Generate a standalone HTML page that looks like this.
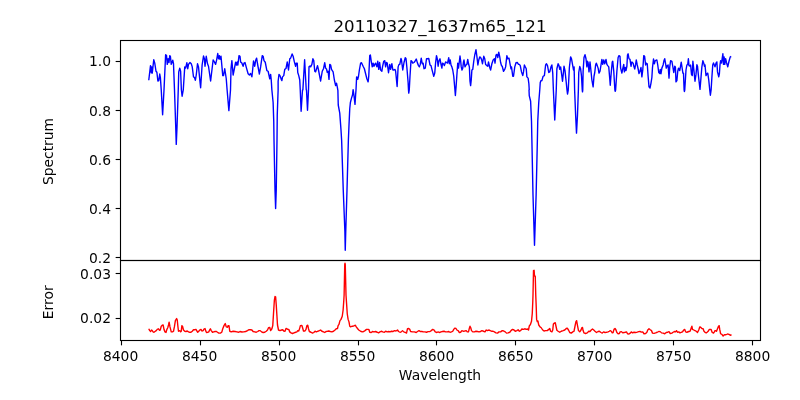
<!DOCTYPE html>
<html lang="en"><head><meta charset="utf-8"><title>20110327_1637m65_121</title>
<style>html,body{margin:0;padding:0;background:#fff;}body{width:800px;height:400px;overflow:hidden;}svg{display:block;}text{font-family:"DejaVu Sans","Liberation Sans",sans-serif;fill:#000;}</style></head><body>
<svg width="800" height="400" viewBox="0 0 800 400">
<rect x="0" y="0" width="800" height="400" fill="#ffffff"/>
<g fill="none" stroke-linejoin="round" stroke-linecap="butt" stroke-width="1.39">
<polyline stroke="#0000ff" points="148.75,80.25 150.50,65.62 151.25,72.75 151.75,66.88 152.25,73.12 153.75,59.75 154.75,63.12 156.00,71.25 156.88,72.25 157.88,81.00 158.75,80.62 159.75,74.00 160.38,77.50 161.25,90.00 161.25,90.00 162.62,114.75 164.00,90.00 164.00,90.00 165.62,54.75 166.50,55.25 167.25,64.38 168.12,58.75 169.00,62.50 169.75,55.62 170.38,56.25 171.25,64.38 172.75,60.25 173.50,63.75 174.50,90.00 174.50,90.00 175.75,127.50 175.75,127.50 176.25,144.38 177.00,127.50 177.00,127.50 178.25,90.00 178.25,90.00 178.75,71.88 179.75,68.12 180.62,71.25 181.38,90.00 181.38,90.00 182.12,96.25 183.25,90.00 183.25,90.00 184.75,66.88 185.62,68.12 186.88,62.75 187.75,68.75 188.50,64.38 190.00,62.50 191.25,63.75 192.25,66.88 193.50,76.88 194.50,77.50 195.38,80.25 196.25,75.00 197.50,63.75 198.50,66.88 200.62,87.75 202.12,65.00 203.50,56.00 204.38,58.75 205.00,66.25 206.25,56.25 207.50,63.75 208.50,66.25 210.62,81.00 213.12,60.00 214.38,61.88 215.62,64.38 216.50,60.62 217.75,53.50 218.50,58.75 219.38,55.62 220.00,59.38 221.00,56.25 222.75,75.62 223.50,75.62 224.75,68.75 226.25,78.75 227.12,90.00 227.12,90.00 228.88,110.62 230.50,90.00 230.50,90.00 231.00,68.75 231.88,60.62 233.12,75.00 235.62,62.25 236.50,65.00 237.25,61.88 237.88,65.00 239.00,55.62 240.00,56.25 240.62,61.88 241.88,63.12 243.12,66.25 244.00,63.12 245.00,62.50 246.50,68.12 248.12,73.75 249.38,75.00 250.62,73.50 251.88,76.88 252.50,71.25 253.50,61.00 254.75,66.25 255.62,60.62 256.62,58.12 257.50,63.75 259.38,74.00 260.62,66.88 262.25,55.62 263.12,56.25 264.00,60.62 265.25,62.25 266.88,70.62 268.12,71.25 269.75,78.75 270.62,74.38 271.25,80.00 271.88,90.00 271.88,90.00 273.12,102.50 273.75,121.25 274.00,140.00 275.00,190.00 275.62,208.50 276.25,190.00 277.00,140.00 277.25,115.00 278.12,90.00 278.12,90.00 278.12,81.25 279.00,74.38 280.00,75.62 281.25,79.38 281.88,80.62 282.50,76.88 283.75,75.62 284.75,69.38 286.00,68.50 287.25,61.88 288.50,70.00 289.75,58.75 290.62,58.12 292.12,54.00 293.12,56.25 294.38,61.88 295.62,66.25 296.25,63.12 297.25,63.12 297.75,72.50 298.75,75.62 299.75,80.00 300.25,90.00 300.25,90.00 301.12,111.25 302.50,90.00 302.88,90.00 304.62,59.75 306.25,90.00 306.50,90.00 307.50,110.25 308.50,90.00 308.50,90.00 309.00,66.88 310.00,66.00 310.62,66.88 311.88,64.38 312.88,58.75 313.75,60.62 314.75,71.25 315.62,71.88 317.50,65.62 318.50,70.00 320.62,81.00 322.25,71.25 323.50,68.75 324.75,62.75 325.62,68.12 326.50,69.00 327.25,72.25 328.12,71.25 329.00,79.38 329.75,64.38 330.62,65.00 331.50,69.38 333.12,71.88 334.38,80.00 335.62,85.62 336.50,83.12 337.50,88.12 337.75,90.00 337.88,90.00 338.25,105.00 339.75,113.12 341.00,130.00 341.62,140.00 341.62,140.00 343.25,190.00 343.25,190.00 344.88,231.25 344.88,231.25 345.25,250.25 345.75,231.25 345.75,231.25 347.00,190.00 347.00,190.00 348.38,140.00 349.00,125.00 349.75,108.75 350.38,102.50 351.50,98.12 352.50,95.00 353.12,89.62 353.75,93.75 355.00,104.38 355.62,95.00 356.00,90.00 356.00,90.00 356.62,76.88 357.75,79.38 358.50,76.25 359.38,70.00 360.62,63.12 361.50,62.75 363.12,66.25 364.38,68.75 365.62,73.75 366.88,78.75 368.12,81.88 368.75,76.25 369.75,55.62 370.38,55.00 371.25,61.25 372.25,66.88 373.12,63.12 374.00,66.25 374.75,64.38 375.62,63.12 376.88,66.88 377.75,61.25 378.75,69.38 379.62,62.50 380.62,70.00 381.88,71.25 382.50,66.88 383.75,61.25 384.75,60.62 385.62,66.88 386.50,62.50 387.25,63.12 388.50,72.75 389.75,64.38 390.62,69.38 391.88,63.75 392.88,70.00 393.75,70.00 395.00,69.38 395.62,71.25 396.25,77.50 397.12,86.50 398.12,66.88 399.00,64.38 399.75,64.38 401.00,58.50 401.50,60.00 402.75,70.00 404.00,62.50 405.25,57.75 406.00,58.50 406.88,67.50 408.12,82.50 408.50,90.00 408.50,90.00 408.75,93.12 409.25,90.00 409.25,90.00 410.00,76.25 411.00,60.62 411.88,61.25 412.75,63.12 414.00,62.50 415.00,61.25 416.25,59.00 417.50,63.12 418.50,65.62 419.38,66.88 420.25,64.38 421.25,58.12 422.25,63.75 423.12,63.12 424.00,68.75 425.25,68.12 426.50,58.75 427.50,58.75 428.75,58.50 430.00,65.00 431.00,65.62 432.25,70.62 433.75,76.25 434.75,73.12 435.62,62.50 436.50,55.62 437.25,58.75 438.12,66.25 439.00,60.62 440.00,58.75 441.00,64.38 441.88,68.12 442.50,63.12 443.50,63.75 444.38,65.62 445.62,61.88 446.50,62.50 447.50,63.12 448.75,57.75 449.38,63.75 450.25,60.00 451.00,65.00 451.88,66.88 452.75,70.00 453.75,76.25 454.62,86.25 455.38,95.50 456.12,86.25 456.88,75.00 457.75,63.12 458.50,68.12 459.38,61.25 460.00,56.00 460.62,60.62 461.25,66.88 462.00,70.00 462.75,68.12 463.50,61.88 464.00,60.00 465.00,66.88 466.00,65.00 466.88,64.38 467.75,59.38 468.50,63.75 469.38,66.88 470.00,81.25 470.62,85.62 471.25,80.00 471.88,70.00 472.75,69.38 473.75,61.25 474.75,55.00 476.00,49.75 476.88,56.25 477.88,65.00 478.75,60.00 479.75,56.88 480.62,57.50 481.50,59.38 482.50,63.75 483.75,56.25 484.75,58.75 485.62,64.38 486.88,65.62 487.75,66.25 488.50,61.88 489.75,67.50 490.62,70.00 491.88,63.75 493.12,60.00 494.38,58.75 495.00,63.12 496.00,55.00 496.88,54.38 497.75,57.50 498.75,52.25 499.75,56.88 500.62,62.50 501.50,65.62 502.25,66.25 503.50,71.25 504.75,69.38 505.62,66.88 506.88,55.62 507.75,58.75 509.00,58.12 510.00,63.75 511.00,68.75 511.50,66.88 512.75,76.25 513.50,76.25 514.75,66.88 516.00,62.75 517.25,62.50 518.50,64.38 519.38,64.38 520.25,65.62 521.50,71.88 522.75,75.62 523.50,71.88 524.38,65.00 525.25,66.88 526.25,68.75 526.88,76.88 528.12,78.12 528.88,83.75 529.25,90.00 529.00,90.00 529.25,95.62 530.62,101.25 531.50,121.25 531.88,140.00 533.00,195.00 534.50,245.25 536.12,195.00 537.38,140.00 537.75,121.25 538.75,102.50 539.75,90.00 539.75,90.00 540.25,82.50 541.00,80.62 541.88,80.62 543.12,76.25 544.38,75.62 545.62,65.00 546.50,63.75 547.50,65.62 548.75,72.50 549.75,71.88 551.00,66.88 551.88,65.00 552.75,73.12 553.38,90.00 553.38,90.00 554.75,120.00 556.25,90.00 556.25,90.00 556.88,68.75 558.12,63.75 559.00,65.62 559.75,69.38 560.62,66.88 561.88,76.25 562.50,81.25 563.50,71.88 564.00,66.25 565.00,70.62 566.25,82.50 567.00,90.00 567.00,90.00 567.50,94.00 568.25,90.00 568.25,90.00 569.38,67.50 570.62,56.88 571.50,58.75 572.50,64.38 573.50,70.00 574.12,66.88 574.62,90.00 574.62,90.00 575.62,115.00 576.50,133.12 577.50,115.00 578.38,90.00 578.38,90.00 578.75,72.50 579.75,66.50 580.62,68.75 581.50,76.25 582.25,90.00 582.25,90.00 582.50,91.88 582.75,90.00 582.75,90.00 583.12,71.25 584.00,57.50 585.00,54.75 586.00,58.75 586.88,66.88 587.50,61.25 588.12,62.50 589.00,71.88 590.00,61.88 591.00,71.25 591.88,80.00 593.12,86.88 594.00,76.25 594.75,72.50 595.62,65.00 596.25,63.12 597.25,65.62 598.12,68.12 599.00,73.12 600.00,71.25 601.00,65.00 601.88,59.38 602.75,64.38 603.75,60.00 604.75,63.75 606.00,59.38 606.88,64.38 607.75,65.62 608.75,66.88 609.75,78.75 610.25,85.25 611.25,72.50 612.25,61.88 612.75,61.25 613.75,71.25 614.88,90.00 614.88,90.00 615.25,91.25 615.62,90.00 615.62,90.00 616.88,71.25 618.12,57.50 619.00,55.62 620.00,56.25 620.62,68.12 621.88,73.12 622.75,68.75 623.75,64.38 624.38,71.88 625.25,67.50 626.00,70.62 626.88,66.25 627.50,55.00 628.12,53.75 629.00,58.75 630.00,59.38 631.00,66.25 631.88,61.88 633.12,63.12 634.00,66.88 634.75,69.00 635.62,64.38 636.25,60.00 637.25,65.00 638.12,68.75 639.00,73.50 640.00,71.25 641.00,67.50 641.88,76.88 642.75,70.00 643.75,55.62 644.62,56.25 645.62,65.00 646.25,63.12 647.25,63.75 648.12,76.25 649.00,86.88 650.00,88.12 651.00,83.12 651.88,77.50 652.50,67.50 653.50,59.00 654.38,63.75 655.25,60.62 656.88,60.00 657.75,65.00 658.75,72.50 659.75,73.50 660.25,69.38 661.00,73.75 661.88,68.12 663.12,65.00 664.00,60.62 664.75,58.75 665.62,63.75 666.25,68.12 667.25,65.62 668.12,65.00 669.00,78.12 669.75,66.88 670.62,60.62 671.88,61.25 672.75,66.25 673.75,72.50 674.75,66.25 675.38,66.88 676.00,81.88 676.88,80.62 677.75,71.25 678.50,68.12 679.75,70.62 680.62,65.62 681.25,62.25 682.25,68.75 682.88,73.12 683.50,73.12 684.12,90.00 684.12,90.00 684.38,91.50 684.75,90.00 684.75,90.00 686.00,70.00 686.88,65.00 687.75,64.38 688.38,58.75 689.00,65.62 690.00,66.25 690.62,65.00 691.50,74.38 692.25,75.62 692.88,61.25 693.75,68.75 695.00,81.25 696.00,74.38 696.88,64.75 697.50,66.25 698.50,76.25 700.00,89.38 701.00,77.50 701.88,66.88 702.88,60.62 703.75,63.12 704.50,66.25 705.00,65.00 706.00,75.62 706.88,73.75 707.75,73.12 708.75,80.00 709.75,90.00 709.75,90.00 710.38,95.25 711.12,90.00 711.12,90.00 711.88,77.50 712.75,65.00 713.50,62.88 715.00,66.88 716.00,63.12 716.88,61.88 717.50,71.88 718.75,76.88 719.38,73.75 720.00,65.00 720.62,60.62 721.50,63.12 722.25,58.12 722.88,53.75 723.50,64.38 724.12,56.88 724.75,64.38 725.62,58.75 726.50,62.50 727.75,66.88 729.00,61.25 730.25,56.88 731.25,56.50"/>
<polyline stroke="#ff0000" points="148.75,328.75 149.75,330.62 150.62,331.50 151.50,330.00 152.25,330.62 153.12,331.88 154.00,332.25 155.00,331.50 156.25,330.62 157.25,329.38 158.50,328.75 159.38,330.25 160.25,330.00 161.25,326.25 162.25,325.25 163.12,325.00 164.00,329.38 165.00,331.88 166.00,332.50 166.88,329.38 167.75,327.75 168.50,325.00 169.12,322.25 170.00,326.88 171.25,331.88 172.50,331.88 173.50,331.25 174.38,326.88 175.38,320.62 176.62,318.50 177.25,320.00 177.88,326.25 178.50,331.25 179.75,330.62 180.62,331.88 181.25,331.25 181.88,325.62 182.50,326.25 183.50,330.00 184.75,331.25 186.00,331.50 187.25,331.00 188.50,331.88 189.75,332.25 191.00,332.25 192.25,331.25 193.50,329.75 194.75,329.75 196.00,329.38 196.88,331.00 197.75,332.25 198.75,331.25 199.75,330.00 201.00,329.38 201.88,331.00 203.12,330.62 204.00,329.00 205.00,328.50 205.62,330.62 206.50,332.50 207.75,332.25 208.75,331.88 209.75,329.75 210.38,328.75 211.25,330.62 212.50,332.25 213.75,331.88 215.00,331.50 216.50,331.50 217.50,332.25 218.75,333.12 220.62,333.12 221.88,331.88 222.75,328.75 224.00,325.62 225.25,323.50 226.25,326.88 227.50,327.25 228.12,325.62 229.00,325.62 229.75,331.25 231.25,331.88 233.12,331.25 235.00,331.50 236.88,331.88 238.75,332.25 240.00,331.50 241.88,332.00 243.75,331.88 245.62,331.50 247.50,330.62 248.75,329.75 250.62,329.75 251.88,330.00 253.12,331.50 254.75,331.88 256.25,332.25 257.75,331.50 259.00,330.62 260.25,330.62 261.50,331.88 263.12,332.50 264.75,332.25 266.25,331.25 267.50,330.00 268.50,327.75 269.75,327.50 270.62,330.62 271.88,328.75 272.75,325.62 273.50,313.75 274.38,300.00 275.00,296.50 275.62,296.88 276.25,305.00 276.88,315.00 277.50,325.00 278.50,330.00 280.00,330.62 281.50,330.00 282.75,329.75 283.75,331.00 285.00,331.25 286.00,328.50 286.88,328.75 287.75,329.38 288.75,329.38 289.75,331.88 291.00,332.88 292.50,333.50 294.00,332.88 295.62,332.25 296.88,331.88 297.75,330.62 298.75,331.00 299.75,328.12 300.38,325.62 301.88,325.38 302.50,327.50 303.50,331.00 305.00,331.00 306.00,329.38 306.88,325.62 307.75,325.25 308.50,328.75 309.38,331.50 311.00,332.25 312.50,333.12 313.75,332.50 315.00,331.25 316.50,331.88 317.75,331.25 319.38,330.62 320.62,330.00 321.88,331.25 323.50,331.88 324.75,332.50 326.00,331.50 327.50,331.25 328.75,331.00 330.25,331.50 331.88,331.88 333.50,331.25 335.00,330.00 336.25,328.75 337.50,328.50 338.12,325.62 339.00,324.38 339.62,321.88 340.00,320.62 341.00,319.38 342.25,316.25 343.12,310.00 343.75,301.25 344.12,295.00 344.12,295.00 344.75,264.38 345.00,263.25 345.25,264.38 346.00,295.00 346.00,295.00 346.50,302.50 347.25,313.75 348.12,319.38 349.00,321.88 349.75,326.25 350.62,326.88 351.88,326.25 353.12,326.25 354.38,325.62 355.38,325.25 356.25,326.88 357.50,328.50 358.75,330.00 360.62,331.25 362.25,331.88 363.75,331.50 365.00,330.62 366.50,329.38 368.12,329.38 369.00,329.75 369.75,332.25 371.25,332.50 372.50,331.50 374.00,331.88 375.62,331.50 377.25,332.25 378.50,332.88 380.00,331.88 381.25,331.25 382.75,331.88 384.38,332.25 385.62,331.25 387.25,331.88 388.75,331.50 390.00,331.88 391.50,331.25 393.12,331.50 394.38,330.62 396.00,331.00 397.50,330.00 398.50,331.50 400.00,332.25 401.25,331.88 402.50,330.62 403.75,331.88 405.00,332.25 406.50,333.12 407.50,328.75 408.75,328.50 409.75,329.38 410.62,331.50 412.50,331.88 414.38,331.88 416.25,332.50 417.50,331.50 419.00,330.62 420.25,331.50 421.88,331.50 423.50,331.88 425.00,331.88 426.50,332.25 428.12,331.62 430.00,331.50 431.25,330.62 432.75,329.38 434.00,330.00 435.25,331.88 436.88,332.50 438.12,331.88 439.38,332.50 441.00,331.88 442.50,331.50 444.00,331.25 445.62,331.88 447.25,331.88 448.75,331.50 450.00,332.25 451.50,331.88 452.75,331.25 453.75,329.38 454.75,328.12 456.00,328.50 456.88,330.00 458.12,330.62 459.38,332.50 460.62,332.25 461.88,330.62 463.12,331.25 464.75,331.00 466.25,330.62 467.25,331.88 468.50,331.88 469.38,328.12 470.00,326.25 470.75,327.75 471.50,330.62 472.75,331.88 474.38,331.88 476.00,331.25 477.50,331.50 479.00,331.88 480.62,331.50 481.88,330.62 483.50,331.25 485.00,331.88 486.25,330.00 487.50,330.62 488.75,330.00 490.25,330.62 491.50,331.25 493.12,331.25 494.38,331.88 496.00,332.88 497.50,333.12 499.00,331.88 500.62,331.88 502.25,330.62 503.75,331.00 505.25,331.88 506.50,333.12 508.12,332.88 509.75,332.25 511.00,330.62 512.50,329.38 514.00,330.00 515.25,331.25 516.88,330.62 518.12,329.75 519.38,331.25 520.62,330.62 521.88,329.00 523.50,329.38 524.75,328.75 526.25,329.38 527.50,329.00 528.50,330.00 529.38,325.62 530.00,325.00 530.25,325.00 531.50,321.25 532.25,313.75 532.75,302.50 533.00,295.00 533.00,295.00 533.50,270.62 534.12,270.25 534.50,276.00 535.25,276.25 535.75,295.00 535.75,295.00 536.25,307.50 536.62,319.38 537.25,321.50 537.88,321.00 538.75,325.00 540.00,326.88 541.25,327.75 542.50,329.75 544.00,331.00 545.62,330.62 547.25,330.62 548.75,329.38 549.75,328.50 550.62,331.25 551.88,331.88 552.75,330.00 553.38,324.00 554.38,323.12 555.25,322.75 556.00,326.25 556.88,330.25 558.12,331.25 559.75,332.25 561.25,331.25 563.12,330.62 564.75,330.00 566.25,328.50 567.25,328.12 568.50,330.00 569.75,332.50 571.25,333.12 572.75,331.88 574.00,331.25 575.00,326.25 575.88,321.88 576.62,320.62 577.50,325.62 578.50,330.62 579.75,331.88 581.00,330.00 581.88,327.75 582.50,327.50 583.12,330.62 584.00,332.88 585.62,333.50 587.25,332.88 588.75,331.25 590.00,331.50 591.25,330.00 592.50,329.00 593.75,330.00 595.00,331.25 596.50,332.50 598.12,331.50 599.38,331.25 601.00,332.50 602.25,333.12 603.50,331.88 605.00,332.50 606.50,332.25 608.12,331.88 609.38,331.25 610.25,330.62 611.25,331.25 612.25,332.88 613.12,332.50 614.00,329.38 615.00,328.50 616.00,330.00 616.88,332.50 618.12,333.75 619.38,333.50 620.00,331.88 621.50,331.62 622.75,332.88 624.00,332.50 625.25,332.25 626.50,331.88 627.50,333.75 629.00,334.00 630.25,333.12 631.25,331.88 632.50,332.88 634.00,332.25 635.62,332.50 637.25,332.12 638.75,331.62 640.00,331.50 641.50,332.12 642.75,331.88 644.00,333.75 645.62,333.50 646.88,332.25 647.75,330.00 649.00,328.75 650.25,329.75 651.50,330.62 652.50,333.12 654.00,333.38 655.62,332.88 657.25,332.25 658.75,331.50 660.25,331.62 661.50,332.88 663.12,333.12 664.75,333.75 666.25,332.50 667.75,332.25 669.00,331.62 670.25,333.50 671.88,333.12 673.12,332.25 674.38,331.50 675.62,331.88 676.50,330.62 677.50,332.25 678.75,331.88 680.00,332.88 681.25,332.25 682.50,331.88 683.75,330.00 684.75,329.38 685.62,331.88 686.88,332.25 688.75,331.50 690.00,331.25 691.25,328.12 691.88,326.25 692.50,329.38 693.75,330.00 695.00,330.62 696.25,331.25 697.50,332.50 698.75,330.00 699.75,326.88 700.62,327.25 701.88,328.50 703.12,328.75 704.00,331.25 705.25,332.50 706.50,332.88 708.12,331.25 709.38,329.38 711.00,329.38 712.25,332.50 713.50,333.12 714.38,331.88 715.00,330.62 715.62,330.62 716.50,331.25 717.50,328.75 718.50,326.25 719.12,325.62 719.75,329.38 720.62,333.75 721.88,334.38 723.12,336.00 724.38,334.75 726.00,334.75 727.50,334.00 729.00,334.38 730.25,335.25 731.50,334.75"/>
</g>
<g stroke="#000" stroke-width="1.11" fill="none" stroke-linecap="square">
<rect x="120.5" y="40.5" width="640.0" height="220.0"/>
<rect x="120.5" y="260.5" width="640.0" height="80.0"/>
</g>
<g stroke="#000" stroke-width="1.11" stroke-linecap="butt">
<line x1="121.5" y1="340.5" x2="121.5" y2="345.36"/>
<line x1="200.5" y1="340.5" x2="200.5" y2="345.36"/>
<line x1="279.5" y1="340.5" x2="279.5" y2="345.36"/>
<line x1="358.5" y1="340.5" x2="358.5" y2="345.36"/>
<line x1="436.5" y1="340.5" x2="436.5" y2="345.36"/>
<line x1="515.5" y1="340.5" x2="515.5" y2="345.36"/>
<line x1="594.5" y1="340.5" x2="594.5" y2="345.36"/>
<line x1="673.5" y1="340.5" x2="673.5" y2="345.36"/>
<line x1="752.5" y1="340.5" x2="752.5" y2="345.36"/>
<line x1="120.5" y1="61.5" x2="115.64" y2="61.5"/>
<line x1="120.5" y1="110.5" x2="115.64" y2="110.5"/>
<line x1="120.5" y1="159.5" x2="115.64" y2="159.5"/>
<line x1="120.5" y1="208.5" x2="115.64" y2="208.5"/>
<line x1="120.5" y1="257.5" x2="115.64" y2="257.5"/>
<line x1="120.5" y1="273.5" x2="115.64" y2="273.5"/>
<line x1="120.5" y1="318.5" x2="115.64" y2="318.5"/>
</g>
<g opacity="0.99"><g font-size="13.89px">
<text x="120.60" y="361" text-anchor="middle">8400</text>
<text x="199.60" y="361" text-anchor="middle">8450</text>
<text x="278.60" y="361" text-anchor="middle">8500</text>
<text x="357.60" y="361" text-anchor="middle">8550</text>
<text x="436.60" y="361" text-anchor="middle">8600</text>
<text x="515.60" y="361" text-anchor="middle">8650</text>
<text x="594.60" y="361" text-anchor="middle">8700</text>
<text x="673.60" y="361" text-anchor="middle">8750</text>
<text x="752.60" y="361" text-anchor="middle">8800</text>
<text x="111" y="66" text-anchor="end">1.0</text>
<text x="111" y="116" text-anchor="end">0.8</text>
<text x="111" y="165" text-anchor="end">0.6</text>
<text x="111" y="214" text-anchor="end">0.4</text>
<text x="111" y="263" text-anchor="end">0.2</text>
<text x="111" y="279" text-anchor="end">0.03</text>
<text x="111" y="323" text-anchor="end">0.02</text>
<text x="440" y="380" text-anchor="middle">Wavelength</text>
<text transform="translate(53,151.5) rotate(-90)" text-anchor="middle">Spectrum</text>
<text transform="translate(53,302.3) rotate(-90)" text-anchor="middle">Error</text>
</g>
<text x="440" y="32" font-size="16.67px" text-anchor="middle">20110327_1637m65_121</text>
</g>
</svg></body></html>
